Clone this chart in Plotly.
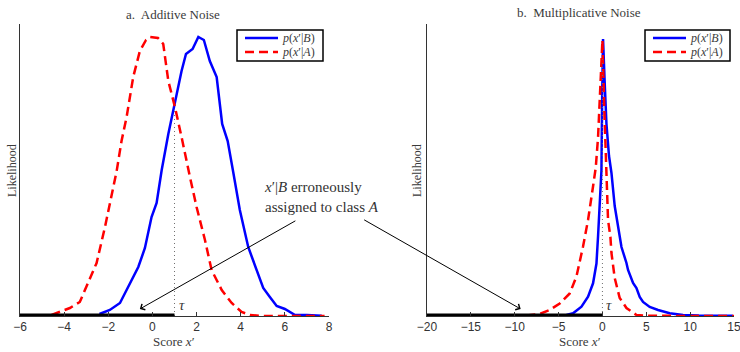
import plotly.graph_objects as go

# ---- a. Additive noise: score likelihoods ----
add_x_B = [-2.4, -1.93, -1.47, -1.02, -0.64, -0.34, -0.04, 0.19, 0.42, 0.72, 1.02, 1.32, 1.52,
           1.82, 2.08, 2.33, 2.60, 2.91, 3.16, 3.41, 3.66, 3.96, 4.34, 4.72, 5.02, 5.32, 5.63,
           6.00, 6.46, 7.0, 7.67]
add_p_B = [0.002, 0.006, 0.013, 0.033, 0.049, 0.068, 0.099, 0.113, 0.146, 0.182, 0.215, 0.245,
           0.262, 0.267, 0.279, 0.276, 0.255, 0.239, 0.192, 0.175, 0.144, 0.106, 0.069, 0.046,
           0.028, 0.019, 0.010, 0.007, 0.001, 0.001, 0.0003]
add_x_A = [-4.57, -4.34, -3.74, -3.29, -3.06, -2.83, -2.53, -2.15, -1.93, -1.62, -1.40, -1.17,
           -0.87, -0.57, -0.29, -0.11, 0.25, 0.49, 0.72, 1.02, 1.32, 1.59, 1.70, 2.00, 2.38,
           2.68, 3.14, 3.59, 4.04, 4.42, 5.0, 6.0, 7.0, 7.8]
add_p_A = [0.001, 0.003, 0.008, 0.014, 0.026, 0.039, 0.053, 0.089, 0.113, 0.145, 0.175, 0.199,
           0.239, 0.265, 0.276, 0.279, 0.278, 0.272, 0.235, 0.209, 0.179, 0.149, 0.139, 0.109,
           0.076, 0.046, 0.026, 0.013, 0.004, 0.001, 0.0, 0.0, 0.0, 0.0]
add_tau = 1.0
add_tau_height = 0.205
add_xrange = [-6, 8]
add_yrange = [0, 0.292]
add_ticks = [-6, -4, -2, 0, 2, 4, 6, 8]

# ---- b. Multiplicative noise: score likelihoods ----
mul_x_B = [-4.1, -3.35, -2.39, -1.64, -1.07, -0.68, -0.50, -0.31, -0.11, -0.03, 0.07, 0.25,
           0.46, 0.75, 1.03, 1.40, 1.97, 2.17, 2.74, 2.92, 3.49, 3.88, 4.25, 4.63, 5.39, 6.34,
           7.67, 9.19, 11.0, 13.0, 14.86]
mul_p_B = [0.002, 0.0054, 0.0186, 0.0386, 0.0654, 0.105, 0.159, 0.225, 0.292, 0.44, 0.554,
           0.47, 0.384, 0.32, 0.286, 0.22, 0.158, 0.138, 0.106, 0.092, 0.066, 0.056, 0.038,
           0.028, 0.018, 0.012, 0.0054, 0.002, 0.001, 0.0006, 0.0004]
mul_x_A = [-8.67, -7.15, -6.01, -4.87, -3.73, -2.96, -2.21, -1.64, -1.07, -0.76, -0.50, -0.25,
           0.0, 0.2, 0.46, 0.64, 0.91, 1.03, 1.40, 1.97, 2.74, 3.88, 5.0, 7.0, 10.0, 13.0, 15.0]
mul_p_A = [0.001, 0.004, 0.012, 0.025, 0.045, 0.079, 0.139, 0.192, 0.259, 0.297, 0.357, 0.46,
           0.552, 0.42, 0.292, 0.192, 0.158, 0.126, 0.076, 0.036, 0.016, 0.002, 0.0006, 0.0,
           0.0, 0.0, 0.0]
mul_tau = 0.0
mul_tau_height = 0.52
mul_xrange = [-20, 15]
mul_yrange = [0, 0.584]
mul_ticks = [-20, -15, -10, -5, 0, 5, 10, 15]

# arrow targets (score, likelihood) on each panel
add_arrow_target = (-0.57, 0.007)
mul_arrow_target = (-9.32, 0.014)

legend_B = "<i>p</i>(<i>x</i>′|<i>B</i>)"
legend_A = "<i>p</i>(<i>x</i>′|<i>A</i>)"

SERIF = "Liberation Serif"
SANS = "Liberation Sans"
TXT = "#3a3a3a"
BLUE = "#0000ff"
RED = "#ff0000"
DASH = "9px,5px"

W, H = 740, 352
MT, MB = 24, 36

fig = go.Figure()

panels = [
    ("x", "y", add_x_B, add_p_B, add_x_A, add_p_A, add_xrange, add_tau, add_tau_height),
    ("x2", "y2", mul_x_B, mul_p_B, mul_x_A, mul_p_A, mul_xrange, mul_tau, mul_tau_height),
]

for xa, ya, xb, pb, xA, pA, xr, tau, tauh in panels:
    fig.add_trace(go.Scatter(x=xb, y=pb, xaxis=xa, yaxis=ya, mode="lines", name=legend_B,
                             line=dict(color=BLUE, width=2.5), cliponaxis=False))
    fig.add_trace(go.Scatter(x=xA, y=pA, xaxis=xa, yaxis=ya, mode="lines", name=legend_A,
                             line=dict(color=RED, width=2.5, dash=DASH), cliponaxis=False))
    # threshold marker
    fig.add_trace(go.Scatter(x=[tau, tau], y=[0, tauh], xaxis=xa, yaxis=ya, mode="lines",
                             line=dict(color="#707070", width=1, dash="1px,3px"),
                             hoverinfo="skip"))
    # region assigned to class A
    fig.add_trace(go.Scatter(x=[xr[0], tau], y=[0, 0], xaxis=xa, yaxis=ya, mode="lines",
                             line=dict(color="black", width=5), cliponaxis=False,
                             hoverinfo="skip"))

axis_common = dict(showgrid=False, zeroline=False, showline=True, linecolor="#333",
                   linewidth=1, fixedrange=True, automargin=False)

fig.update_layout(
    width=W, height=H,
    margin=dict(l=0, r=0, t=MT, b=MB, autoexpand=False),
    paper_bgcolor="white", plot_bgcolor="white",
    showlegend=False,
    xaxis=dict(domain=[20 / W, 329 / W], range=add_xrange, tickvals=add_ticks,
               ticks="inside", ticklen=4, tickcolor="#333", anchor="y",
               ticklabeloverflow="allow",
               tickfont=dict(family=SANS, size=12, color="#333"), **axis_common),
    yaxis=dict(domain=[0, 1], range=add_yrange, showticklabels=False, ticks="", anchor="x",
               **axis_common),
    xaxis2=dict(domain=[427 / W, 734 / W], range=mul_xrange, tickvals=mul_ticks,
                ticks="inside", ticklen=4, tickcolor="#333", anchor="y2",
                ticklabeloverflow="allow",
                tickfont=dict(family=SANS, size=12, color="#333"), **axis_common),
    yaxis2=dict(domain=[0, 1], range=mul_yrange, showticklabels=False, ticks="", anchor="x2",
                **axis_common),
)


def paper_y(py):
    return (H - MB - py) / (H - MT - MB)


def paper_x(px):
    return px / W


ann = []
shapes = []


def label(text, px, py, size, **kw):
    ann.append(dict(text=text, x=paper_x(px), y=paper_y(py), xref="paper", yref="paper",
                    xanchor=kw.pop("xanchor", "center"), yanchor=kw.pop("yanchor", "middle"),
                    showarrow=False, font=dict(family=SERIF, size=size,
                                               color=kw.pop("color", TXT)), **kw))


# panel titles
label("a.  Additive Noise", 173, 14, 13)
label("b.  Multiplicative Noise", 579, 12, 13)
# axis titles
for cx in (174, 580):
    label("Score <i>x</i>′", cx, 341, 13)
for cx in (12, 417):
    label("Likelihood", cx, 171, 12, textangle=-90)

# legend boxes drawn per panel
for left, right in ((237, 323), (645, 730)):
    shapes.append(dict(type="rect", xref="paper", yref="paper",
                       x0=paper_x(left), x1=paper_x(right), y0=paper_y(61), y1=paper_y(30),
                       line=dict(color="black", width=1.5), fillcolor="white", layer="above"))
    for py, colr, dash, txt in ((38, BLUE, "solid", legend_B), (52, RED, DASH, legend_A)):
        shapes.append(dict(type="line", xref="paper", yref="paper",
                           x0=paper_x(left + 8), x1=paper_x(left + 41),
                           y0=paper_y(py), y1=paper_y(py),
                           line=dict(color=colr, width=2.5, dash=dash), layer="above"))
        label(txt, left + 43, py, 12, xanchor="left")

# threshold labels
for xr_, yr_, tau in (("x", "y", add_tau), ("x2", "y2", mul_tau)):
    ann.append(dict(text="<i>τ</i>", x=tau, y=0, xref=xr_, yref=yr_, xanchor="left",
                    yanchor="bottom", xshift=2, yshift=1, showarrow=False,
                    font=dict(family=SERIF, size=15, color=TXT)))

# explanation text and arrows
label("<i>x</i>′|<i>B</i> erroneously<br>assigned to class <i>A</i>", 262, 197, 15,
      xanchor="left", align="left", color="#333")
ann.append(dict(text="", x=add_arrow_target[0], y=add_arrow_target[1], xref="x", yref="y",
                ax=157, ay=-89, showarrow=True, arrowhead=4, arrowsize=1.3, arrowwidth=1,
                arrowcolor="black", standoff=0))
ann.append(dict(text="", x=mul_arrow_target[0], y=mul_arrow_target[1], xref="x2", yref="y2",
                ax=-158, ay=-90, showarrow=True, arrowhead=4, arrowsize=1.3, arrowwidth=1,
                arrowcolor="black", standoff=0))
fig.update_layout(annotations=ann, shapes=shapes)

fig.write_html("out.html")
